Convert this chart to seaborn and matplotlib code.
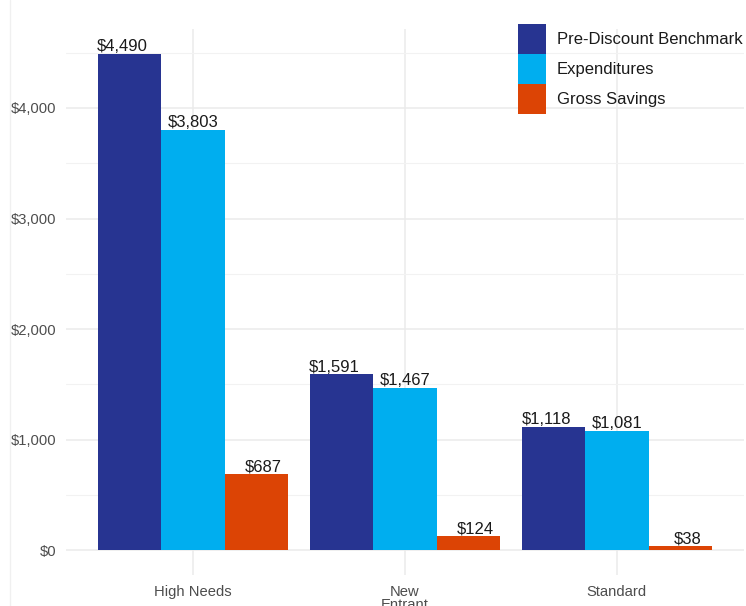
import matplotlib
matplotlib.use("Agg")
import matplotlib.pyplot as plt
import matplotlib.ticker as mticker
from matplotlib.lines import Line2D
import seaborn as sns
import pandas as pd

categories = ["High Needs", "New\nEntrant", "Standard"]
series = ["Pre-Discount Benchmark", "Expenditures", "Gross Savings"]
benchmark = [4490, 1591, 1118]
expenditures = [3803, 1467, 1081]
savings = [687, 124, 38]
colors = ["#273491", "#00AEEF", "#DC4405"]

rows = []
for name, vals in zip(series, [benchmark, expenditures, savings]):
    for c, v in zip(categories, vals):
        rows.append({"Category": c, "Series": name, "Value": v})
df = pd.DataFrame(rows)

sns.set_theme(style="white")
plt.rcParams["font.family"] = ["Liberation Sans", "DejaVu Sans"]

W, H = 746, 606
fig = plt.figure(figsize=(W / 100, H / 100), dpi=100)
ax = fig.add_axes([66 / W, (H - 575) / H, (744 - 66) / W, (575 - 29) / H])

sns.barplot(data=df, x="Category", y="Value", hue="Series", order=categories,
            hue_order=series, palette=colors, width=0.9, gap=0, saturation=1,
            errorbar=None, ax=ax, legend=True, linewidth=0)

ax.set_xlim(-0.6, 2.6)
ax.set_ylim(-224.5, 4714.5)
ax.yaxis.set_major_locator(mticker.MultipleLocator(1000))
ax.yaxis.set_minor_locator(mticker.MultipleLocator(500))
ax.yaxis.set_major_formatter(mticker.FuncFormatter(lambda v, p: f"${v:,.0f}"))
ax.grid(True, which="major", axis="both", color="#ebebeb", linewidth=1.1)
ax.grid(True, which="minor", axis="y", color="#f2f2f2", linewidth=0.8)
ax.set_axisbelow(True)
for s in ax.spines.values():
    s.set_visible(False)
ax.set_xlabel("")
ax.set_ylabel("")
ax.tick_params(axis="both", which="both", length=0, labelsize=10.6, labelcolor="#4d4d4d")
ax.tick_params(axis="x", pad=7)
ax.tick_params(axis="y", pad=7)
for t in ax.get_xticklabels():
    t.set_linespacing(0.95)

# value labels
for patch in ax.patches:
    h = patch.get_height()
    if patch.get_width() <= 0 or h <= 0:
        continue
    cx = patch.get_x() + patch.get_width() / 2
    grp = round(cx)
    lx = grp + (cx - grp) * 1.11
    ax.annotate(f"${h:,.0f}", (lx, h), xytext=(0, 2), textcoords="offset points",
                ha="center", va="baseline", fontsize=12, color="#1a1a1a")

# legend
handles, labels = ax.get_legend_handles_labels()
ax.get_legend().remove()
fig.legend(handles, labels, loc="upper left", bbox_to_anchor=(518 / W, 1 - 24 / H),
           frameon=False, fontsize=12, handlelength=1.68, handleheight=2.39,
           labelspacing=0, handletextpad=0.66, borderpad=0, borderaxespad=0,
           labelcolor="#1a1a1a")

fig.add_artist(Line2D([10 / W, 10 / W], [0, 1], color="#f0f0f0", linewidth=1))

fig.savefig("out.png", dpi=100)
